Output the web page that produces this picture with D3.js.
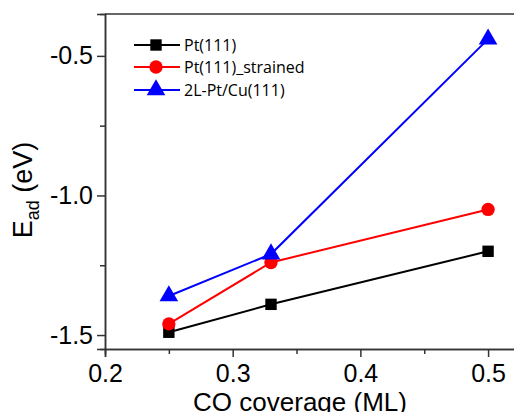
<!DOCTYPE html>
<html>
<head>
<meta charset="utf-8">
<script src="https://cdnjs.cloudflare.com/ajax/libs/d3/7.8.5/d3.min.js"></script>
<style>
  body { margin: 0; background: #fff; }
  text { font-family: "Liberation Sans", Arial, sans-serif; }
  .legend text { font-family: "Open Sans", "Noto Sans", sans-serif; }
</style>
</head>
<body>
<svg id="chart" width="514" height="412"></svg>
<script>
// data
var coverage = [0.25, 0.33, 0.5];
var ptValues = [-1.49, -1.39, -1.20];
var strainedValues = [-1.46, -1.24, -1.05];
var cuValues = [-1.36, -1.21, -0.44];
var seriesNames = ["Pt(111)", "Pt(111)_strained", "2L-Pt/Cu(111)"];
var seriesColors = ["#000000", "#ff0000", "#0000ff"];
var seriesShapes = [d3.symbolSquare, d3.symbolCircle, d3.symbolTriangle];
var xTicks = [0.2, 0.3, 0.4, 0.5];
var yTicks = [-1.5, -1.0, -0.5];

var svg = d3.select("#chart");
var margin = {left: 105, top: 14, right: -6, bottom: 63};
var width = 514 - margin.left - margin.right,
    height = 412 - margin.top - margin.bottom;

var x = d3.scaleLinear().domain([0.2, 0.525]).range([0, width]);
var y = d3.scaleLinear().domain([-1.55, -0.35]).range([height, 0]);

var g = svg.append("g").attr("transform", "translate(" + margin.left + "," + margin.top + ")");

// top frame line
g.append("line")
  .attr("x1", 0).attr("x2", width)
  .attr("y1", 0).attr("y2", 0)
  .attr("stroke", "#333").attr("stroke-width", 1.5);

// minor ticks
var xAxisMinor = d3.axisBottom(x).tickValues([0.25, 0.35, 0.45]).tickSize(5).tickFormat("");
var yAxisMinor = d3.axisLeft(y).tickValues([-1.25, -0.75]).tickSize(5).tickFormat("");
g.append("g").attr("transform", "translate(0," + height + ")").call(xAxisMinor);
g.append("g").call(yAxisMinor);

// plain hyphen for negatives, like the original
var fmt = function(d) { return d.toFixed(1); };
var xAxis = d3.axisBottom(x).tickValues(xTicks).tickSize(8).tickPadding(4).tickFormat(fmt);
var yAxis = d3.axisLeft(y).tickValues(yTicks).tickSize(8).tickPadding(4).tickFormat(fmt);

g.append("g").attr("class", "xaxis").attr("transform", "translate(0," + height + ")").call(xAxis);
g.append("g").attr("class", "yaxis").call(yAxis);

g.selectAll(".domain, .tick line").attr("stroke", "#333").attr("stroke-width", 1.5);
g.selectAll(".xaxis .tick text, .yaxis .tick text")
  .attr("fill", "#000")
  .style("font-size", "25px")
  .style("font-family", "Liberation Sans, Arial, sans-serif");
g.selectAll(".xaxis .tick text").attr("dy", "0.85em");

// axis titles
svg.append("text")
  .attr("x", 300).attr("y", 411)
  .attr("text-anchor", "middle")
  .style("font-size", "26px")
  .text("CO coverage (ML)");

var ylab = svg.append("text")
  .attr("transform", "translate(32,190) rotate(-90)")
  .attr("text-anchor", "middle")
  .style("font-size", "27px");
ylab.append("tspan").text("E");
ylab.append("tspan").attr("dy", 7).style("font-size", "18px").text("ad");
ylab.append("tspan").attr("dy", -7).text(" (eV)");

// series
var allSeries = [ptValues, strainedValues, cuValues];
var line = d3.line()
  .x(function(d, i) { return x(coverage[i]); })
  .y(function(d) { return y(d); });

allSeries.forEach(function(vals, k) {
  g.append("path")
    .datum(vals)
    .attr("fill", "none")
    .attr("stroke", seriesColors[k])
    .attr("stroke-width", 2)
    .attr("d", line);

  var size = k == 2 ? 150 : (k == 1 ? 140 : 130);
  g.selectAll(".pt" + k)
    .data(vals)
    .enter().append("path")
    .attr("class", "pt" + k)
    .attr("transform", function(d, i) { return "translate(" + x(coverage[i]) + "," + y(d) + ")"; })
    .attr("d", d3.symbol().type(seriesShapes[k]).size(size))
    .attr("fill", seriesColors[k]);
});

// legend
var legend = svg.append("g").attr("class", "legend");
var legendY = [45, 67, 90];
seriesNames.forEach(function(name, k) {
  var row = legend.append("g").attr("transform", "translate(0," + legendY[k] + ")");
  row.append("line")
    .attr("x1", 134).attr("x2", 180)
    .attr("stroke", seriesColors[k]).attr("stroke-width", 2);
  row.append("path")
    .attr("transform", "translate(156,0)")
    .attr("d", d3.symbol().type(seriesShapes[k]).size(k == 2 ? 150 : (k == 1 ? 140 : 130)))
    .attr("fill", seriesColors[k]);
  row.append("text")
    .attr("x", 184).attr("y", 6)
    .style("font-size", "16px")
    .text(name);
});
</script>
</body>
</html>
